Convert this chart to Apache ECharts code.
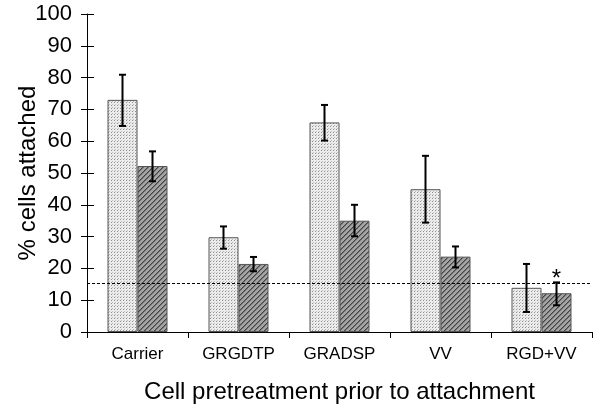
<!DOCTYPE html>
<html>
<head>
<meta charset="utf-8">
<script src="https://cdn.jsdelivr.net/npm/echarts@6/dist/echarts.min.js"></script>
<style>html,body{margin:0;padding:0;background:#fff}#c{width:600px;height:414px}</style>
</head>
<body>
<div id="c"></div>
<script>
var categories = ['Carrier', 'GRGDTP', 'GRADSP', 'VV', 'RGD+VV'];
var valuesA = [73.0, 29.8, 65.9, 44.9, 13.9];
var lowA = [64.8, 26.2, 60.2, 34.4, 6.3];
var highA = [80.9, 33.2, 71.4, 55.4, 21.4];
var valuesB = [52.2, 21.4, 35.0, 23.7, 12.2];
var lowB = [47.4, 19.1, 30.1, 20.3, 8.4];
var highB = [56.8, 23.6, 40.0, 26.9, 15.6];
var sigB = ['', '', '', '', '*'];
var baseline = 15.3;
var yTicks = [0, 10, 20, 30, 40, 50, 60, 70, 80, 90, 100];

function makeDots() {
  var c = document.createElement('canvas'); c.width = 3; c.height = 3;
  var g = c.getContext('2d');
  g.fillStyle = '#ececec'; g.fillRect(0, 0, 3, 3);
  g.fillStyle = '#8f8f8f'; g.fillRect(0, 0, 1, 1);
  g.fillStyle = '#bdbdbd'; g.fillRect(1, 2, 1, 1);
  return c;
}
function makeHatch() {
  var n = 5;
  var c = document.createElement('canvas'); c.width = n; c.height = n;
  var g = c.getContext('2d');
  g.fillStyle = '#a4a4a4'; g.fillRect(0, 0, n, n);
  g.fillStyle = '#444';
  for (var i = 0; i < n; i++) { g.fillRect(i, n - 1 - i, 1, 1); }
  g.fillStyle = '#727272';
  for (var j = 0; j < n; j++) { g.fillRect((j + 1) % n, n - 1 - j, 1, 1); }
  return c;
}

var errData = [];
for (var i = 0; i < categories.length; i++) {
  errData.push([i, lowA[i], highA[i], '', -1]);
  errData.push([i, lowB[i], highB[i], sigB[i], 1]);
}

var chart = echarts.init(document.getElementById('c'), null, {renderer: 'canvas'});
chart.setOption({
  animation: false,
  textStyle: {fontFamily: 'Liberation Sans, Arial, sans-serif'},
  grid: {left: 87, right: 8, top: 14, bottom: 82, containLabel: false, outerBoundsMode: 'none'},
  xAxis: {
    type: 'category', data: categories,
    axisLine: {lineStyle: {color: '#000', width: 1}},
    axisTick: {show: true, length: 6, lineStyle: {color: '#000'}},
    axisLabel: {color: '#000', fontSize: 17, margin: 14},
    name: 'Cell pretreatment prior to attachment',
    nameLocation: 'middle', nameGap: 48, nameMoveOverlap: false,
    nameTextStyle: {color: '#000', fontSize: 24}
  },
  yAxis: [{
    type: 'value', min: 0, max: 100, interval: 10,
    axisLine: {show: true, lineStyle: {color: '#000', width: 1}},
    axisTick: {show: true, length: 6, lineStyle: {color: '#000'}},
    axisLabel: {color: '#000', fontSize: 22, margin: 15,
      formatter: function (v) { return yTicks.indexOf(v) >= 0 ? String(v) : ''; }},
    splitLine: {show: false},
    name: '% cells attached', nameLocation: 'middle', nameGap: 47, nameMoveOverlap: false,
    nameTextStyle: {color: '#000', fontSize: 24}
  }, {
    type: 'value', min: 0, max: 100, interval: 10, position: 'left',
    axisLine: {show: false},
    axisTick: {show: true, inside: true, length: 7, lineStyle: {color: '#000'}},
    axisLabel: {show: false}, splitLine: {show: false}
  }],
  series: [{
    type: 'bar', data: valuesA, barWidth: 30, barGap: '0%',
    itemStyle: {color: {image: makeDots(), repeat: 'repeat'}, borderColor: '#555', borderWidth: 1},
    markLine: {
      silent: true, symbol: 'none', label: {show: false},
      lineStyle: {type: [3, 2], color: '#000', width: 1},
      data: [{yAxis: baseline}]
    },
    z: 2
  }, {
    type: 'bar', data: valuesB, barWidth: 30, barGap: '0%',
    itemStyle: {color: {image: makeHatch(), repeat: 'repeat'}, borderColor: '#555', borderWidth: 1},
    z: 2
  }, {
    type: 'custom', data: errData, z: 10,
    renderItem: function (params, api) {
      var c = api.value(0), lo = api.value(1), hi = api.value(2), side = api.value(4);
      var s = api.value(3);
      var p1 = api.coord([c, lo]), p2 = api.coord([c, hi]);
      var x = p1[0] + side * 15;
      var style = {stroke: '#000', lineWidth: 2};
      var children = [
        {type: 'line', shape: {x1: x, y1: p1[1], x2: x, y2: p2[1]}, style: style},
        {type: 'line', shape: {x1: x - 3.5, y1: p2[1], x2: x + 3.5, y2: p2[1]}, style: style},
        {type: 'line', shape: {x1: x - 3.5, y1: p1[1], x2: x + 3.5, y2: p1[1]}, style: style}
      ];
      if (s) {
        children.push({type: 'text', style: {text: s, x: x, y: p2[1] - 3, align: 'center', verticalAlign: 'middle',
          fontSize: 24, fill: '#000', font: '24px Liberation Sans'}});
      }
      return {type: 'group', children: children};
    }
  }]
});
</script>
</body>
</html>
